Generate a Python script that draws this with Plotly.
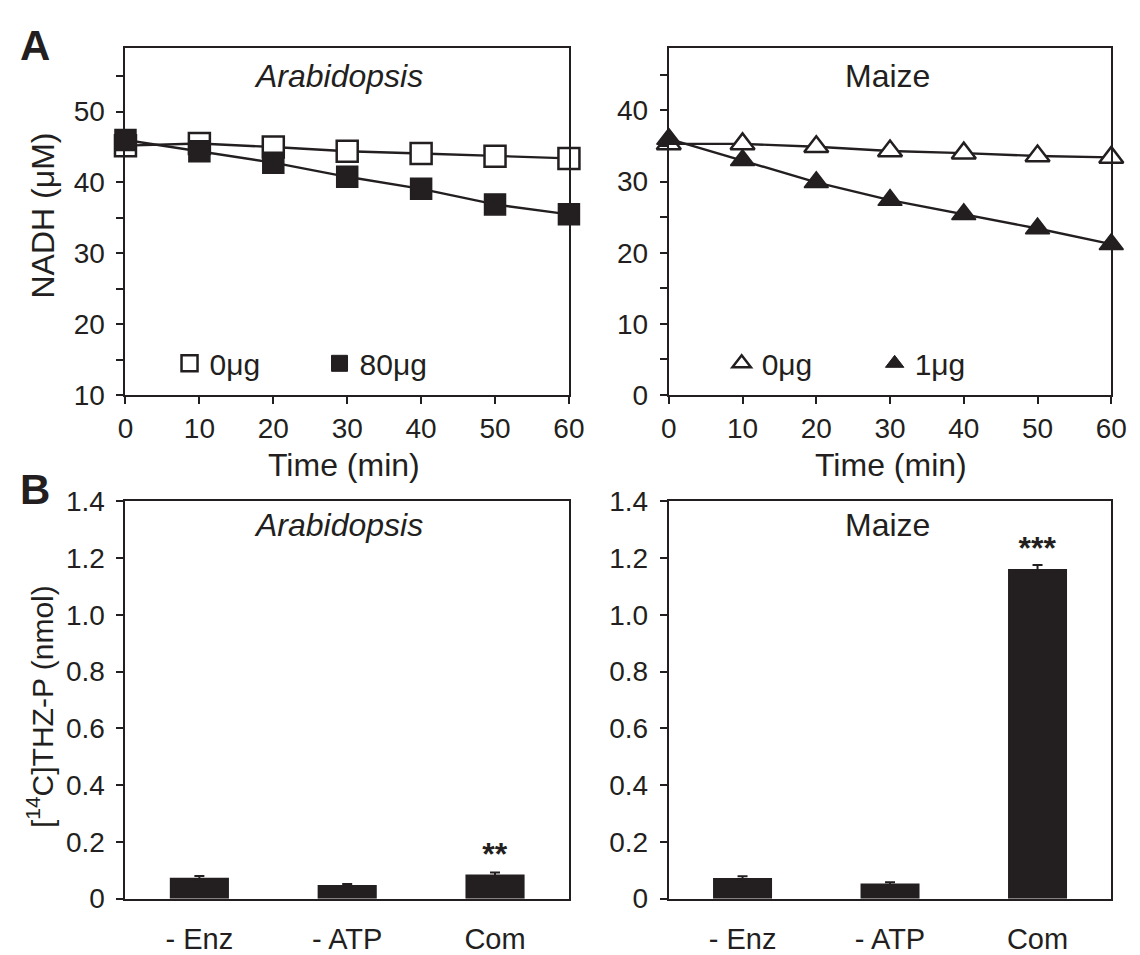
import plotly.graph_objects as go

# ---- data ----
time_min = [0, 10, 20, 30, 40, 50, 60]
arab_0ug = [45.2, 45.5, 45.0, 44.4, 44.1, 43.7, 43.4]
arab_80ug = [46.0, 44.4, 42.8, 40.8, 39.1, 36.9, 35.5]
maize_0ug = [35.3, 35.3, 34.9, 34.3, 34.0, 33.6, 33.4]
maize_1ug = [36.0, 33.0, 29.9, 27.4, 25.4, 23.4, 21.2]

conditions = ["- Enz", "- ATP", "Com"]
arab_thzp = [0.074, 0.048, 0.085]
arab_thzp_err = [0.006, 0.004, 0.007]
maize_thzp = [0.073, 0.053, 1.162]
maize_thzp_err = [0.006, 0.005, 0.014]
arab_sig = ["", "", "**"]
maize_sig = ["", "", "***"]

FONT = "Liberation Sans, Arial, sans-serif"
INK = "#231f20"
W, H = 1140, 955

def px_x(p):
    return p / W

def px_y(p):
    return 1 - p / H

fig = go.Figure()

# domains (pixel based)
xl = [px_x(120), px_x(573)]
xr = [px_x(675), px_x(1127)]
yt = [px_y(392.7), px_y(34)]
yb = [px_y(913.3), px_y(502.7)]

open_line = dict(color=INK, width=2.5)

# ---- top-left: Arabidopsis NADH ----
fig.add_trace(go.Scatter(x=time_min, y=arab_0ug, mode="lines+markers", xaxis="x", yaxis="y",
                         line=dict(color=INK, width=2.4),
                         marker=dict(symbol="square", size=21, color="white", line=open_line),
                         cliponaxis=False, showlegend=False))
fig.add_trace(go.Scatter(x=time_min, y=arab_80ug, mode="lines+markers", xaxis="x", yaxis="y",
                         line=dict(color=INK, width=2.4),
                         marker=dict(symbol="square", size=21, color=INK, line=dict(color=INK, width=1.5)),
                         cliponaxis=False, showlegend=False))
# legend entries
fig.add_trace(go.Scatter(x=[None], y=[None], mode="markers", name="0μg", xaxis="x", yaxis="y",
                         marker=dict(symbol="square", size=19, color="white", line=open_line),
                         legend="legend"))
fig.add_trace(go.Scatter(x=[None], y=[None], mode="markers", name="80μg", xaxis="x", yaxis="y",
                         marker=dict(symbol="square", size=20, color=INK, line=dict(color=INK, width=1)),
                         legend="legend"))

# ---- top-right: Maize NADH ----
fig.add_trace(go.Scatter(x=time_min, y=maize_0ug, mode="lines+markers", xaxis="x2", yaxis="y2",
                         line=dict(color=INK, width=2.4),
                         marker=dict(symbol="triangle-up", size=21, color="white", line=open_line),
                         cliponaxis=False, showlegend=False))
fig.add_trace(go.Scatter(x=time_min, y=maize_1ug, mode="lines+markers", xaxis="x2", yaxis="y2",
                         line=dict(color=INK, width=2.4),
                         marker=dict(symbol="triangle-up", size=21, color=INK, line=dict(color=INK, width=1.5)),
                         cliponaxis=False, showlegend=False))
fig.add_trace(go.Scatter(x=[None], y=[None], mode="markers", name="0μg", xaxis="x2", yaxis="y2",
                         marker=dict(symbol="triangle-up", size=20, color="white", line=open_line),
                         legend="legend2"))
fig.add_trace(go.Scatter(x=[None], y=[None], mode="markers", name="1μg", xaxis="x2", yaxis="y2",
                         marker=dict(symbol="triangle-up", size=21, color=INK, line=dict(color=INK, width=1)),
                         legend="legend2"))

# ---- bottom: bars ----
sigfont = dict(family=FONT, size=32, color=INK, weight="bold")
fig.add_trace(go.Bar(x=conditions, y=arab_thzp, xaxis="x3", yaxis="y3", width=0.4,
                     marker=dict(color=INK, line=dict(width=0)),
                     error_y=dict(type="data", array=arab_thzp_err, color=INK, thickness=2, width=5),
                     text=arab_sig, textposition="outside", cliponaxis=False,
                     textfont=sigfont, showlegend=False))
fig.add_trace(go.Bar(x=conditions, y=maize_thzp, xaxis="x4", yaxis="y4", width=0.4,
                     marker=dict(color=INK, line=dict(width=0)),
                     error_y=dict(type="data", array=maize_thzp_err, color=INK, thickness=2, width=5),
                     text=maize_sig, textposition="outside", cliponaxis=False,
                     textfont=sigfont, showlegend=False))

tickfont = dict(family=FONT, size=28, color=INK)
common = dict(showline=True, linecolor=INK, linewidth=2, mirror=True, ticks="outside",
              ticklen=7, tickwidth=2, tickcolor=INK, tickfont=tickfont, showgrid=False,
              zeroline=False, fixedrange=True)
yax = {**common, "ticklabelstandoff": 6}
xax = {**common, "ticklabelstandoff": 0}
catax = {**common, "ticks": "", "ticklabelstandoff": 14,
         "tickfont": dict(family=FONT, size=29, color=INK)}

ytick_b = [0, 0.2, 0.4, 0.6, 0.8, 1.0, 1.2, 1.4]
ytext_b = ["0", "0.2", "0.4", "0.6", "0.8", "1.0", "1.2", "1.4"]

fig.update_layout(
    width=W, height=H,
    margin=dict(l=0, r=0, t=0, b=0),
    paper_bgcolor="white", plot_bgcolor="white",
    font=dict(family=FONT, color=INK),
    xaxis=dict(domain=xl, anchor="y", range=[0, 60], tickvals=time_min, **xax),
    yaxis=dict(domain=yt, anchor="x", range=[10, 59],
               tickvals=[10, 15, 20, 25, 30, 35, 40, 45, 50, 55],
               ticktext=["10", "", "20", "", "30", "", "40", "", "50", ""], **yax),
    xaxis2=dict(domain=xr, anchor="y2", range=[0, 60], tickvals=time_min, **xax),
    yaxis2=dict(domain=yt, anchor="x2", range=[0, 48.8],
                tickvals=[0, 5, 10, 15, 20, 25, 30, 35, 40, 45],
                ticktext=["0", "", "10", "", "20", "", "30", "", "40", ""], **yax),
    xaxis3=dict(domain=xl, anchor="y3", range=[-0.5, 2.5], **catax),
    yaxis3=dict(domain=yb, anchor="x3", range=[0, 1.4], tickvals=ytick_b, ticktext=ytext_b, **yax),
    xaxis4=dict(domain=xr, anchor="y4", range=[-0.5, 2.5], **catax),
    yaxis4=dict(domain=yb, anchor="x4", range=[0, 1.4], tickvals=ytick_b, ticktext=ytext_b, **yax),
    legend=dict(orientation="h", x=px_x(165), y=px_y(360), xanchor="left", yanchor="middle",
                bgcolor="rgba(0,0,0,0)", font=dict(family=FONT, size=30, color=INK),
                itemwidth=30, entrywidth=105, tracegroupgap=0),
    legend2=dict(orientation="h", x=px_x(729), y=px_y(360), xanchor="left", yanchor="middle",
                 bgcolor="rgba(0,0,0,0)", font=dict(family=FONT, size=30, color=INK),
                 itemwidth=30, entrywidth=108, tracegroupgap=0),
)

ann = []
def add_text(text, x, y, size, italic=False, bold=False, angle=0):
    ann.append(dict(text=text, x=px_x(x), y=px_y(y), xref="paper", yref="paper",
                    showarrow=False, xanchor="center", yanchor="middle", textangle=angle,
                    font=dict(family=FONT, size=size, color=INK,
                              style="italic" if italic else "normal",
                              weight="bold" if bold else "normal")))

add_text("Arabidopsis", 338, 63, 32, italic=True)
add_text("Maize", 898, 63, 32)
add_text("Arabidopsis", 338, 527, 32, italic=True)
add_text("Maize", 898, 527, 32)
add_text("Time (min)", 343, 465, 32)
add_text("Time (min)", 902, 465, 32)
add_text("NADH (μM)", 36, 207, 32, angle=-90)
add_text("[<sup>14</sup>C]THZ-P (nmol)", 33, 715, 30, angle=-90)
add_text("A", 28, 32, 42, bold=True)
add_text("B", 28, 490, 42, bold=True)
fig.update_layout(annotations=ann)

fig.write_html("out.html")
